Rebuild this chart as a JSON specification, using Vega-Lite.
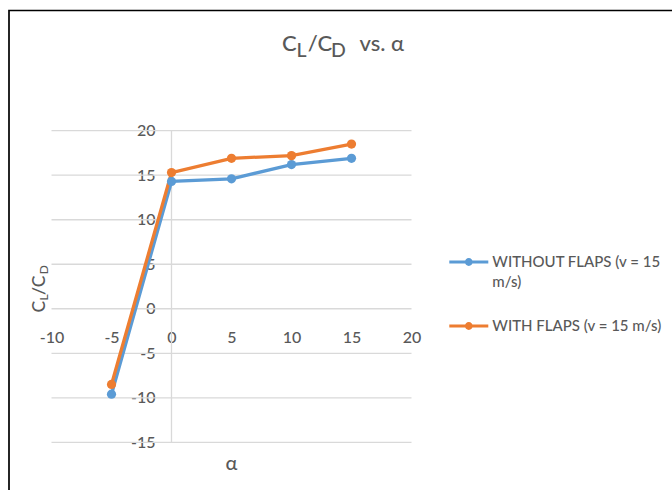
{
  "$schema": "https://vega.github.io/schema/vega-lite/v6.json",
  "width": 666,
  "height": 482.5,
  "autosize": {"type": "none"},
  "padding": {"left": 9, "top": 10.5, "right": -3, "bottom": -3},
  "background": "white",
  "config": {
    "view": {"stroke": "#000000", "strokeWidth": 1.7},
    "font": "Lato"
  },
  "title": {
    "text": "C\u2004\u2006/C\u2002\u2002\u2005vs. α",
    "subtitle": "\u200b\u2002\u2005L\u2003\u2002D",
    "anchor": "start",
    "frame": "group",
    "dx": 273,
    "offset": -51,
    "font": "Lato",
    "fontSize": 22,
    "fontWeight": 500,
    "color": "#595959",
    "subtitleFont": "Lato",
    "subtitleFontSize": 19.5,
    "subtitleFontWeight": 500,
    "subtitleColor": "#595959",
    "subtitlePadding": -14
  },
  "datasets": {
    "grid": [
      {"g": -15}, {"g": -10}, {"g": -5}, {"g": 0},
      {"g": 5}, {"g": 10}, {"g": 15}, {"g": 20}
    ],
    "ratio": [
      {"alpha": -5, "cl_cd": -9.6, "series": "WITHOUT FLAPS (v = 15 m/s)"},
      {"alpha": 0, "cl_cd": 14.3, "series": "WITHOUT FLAPS (v = 15 m/s)"},
      {"alpha": 5, "cl_cd": 14.6, "series": "WITHOUT FLAPS (v = 15 m/s)"},
      {"alpha": 10, "cl_cd": 16.2, "series": "WITHOUT FLAPS (v = 15 m/s)"},
      {"alpha": 15, "cl_cd": 16.9, "series": "WITHOUT FLAPS (v = 15 m/s)"},
      {"alpha": -5, "cl_cd": -8.5, "series": "WITH FLAPS (v = 15 m/s)"},
      {"alpha": 0, "cl_cd": 15.3, "series": "WITH FLAPS (v = 15 m/s)"},
      {"alpha": 5, "cl_cd": 16.9, "series": "WITH FLAPS (v = 15 m/s)"},
      {"alpha": 10, "cl_cd": 17.2, "series": "WITH FLAPS (v = 15 m/s)"},
      {"alpha": 15, "cl_cd": 18.5, "series": "WITH FLAPS (v = 15 m/s)"}
    ]
  },
  "resolve": {"axis": {"x": "independent", "y": "independent"}},
  "layer": [
    {
      "data": {"name": "grid"},
      "mark": {"type": "rule", "color": "#d9d9d9", "strokeWidth": 1.3},
      "encoding": {
        "x": {
          "datum": -10,
          "type": "quantitative",
          "scale": {"domain": [-13.5417, 41.9583], "nice": false, "zero": false},
          "axis": null
        },
        "x2": {"datum": 20},
        "y": {
          "field": "g",
          "type": "quantitative",
          "scale": {"domain": [-20.694, 33.501], "nice": false, "zero": false},
          "axis": {
            "orient": "left",
            "offset": -162.5,
            "labels": false,
            "ticks": false,
            "domain": false,
            "grid": false,
            "title": "L\u2003\u2002\u2005\u2006D",
            "titleFont": "Lato",
            "titleFontSize": 12,
            "titleFontWeight": 500,
            "titleColor": "#595959",
            "titleAngle": 270,
            "titleAlign": "left",
            "titleBaseline": "alphabetic",
            "titleX": -124,
            "titleY": 289.5
          }
        }
      }
    },
    {
      "data": {"values": [{"line": "vertical axis"}]},
      "mark": {"type": "rule", "color": "#d9d9d9", "strokeWidth": 1.3},
      "encoding": {
        "x": {
          "datum": 0,
          "type": "quantitative",
          "scale": {"domain": [-13.5417, 41.9583], "nice": false, "zero": false},
          "axis": null
        },
        "y": {
          "datum": -15,
          "type": "quantitative",
          "scale": {"domain": [-20.694, 33.501], "nice": false, "zero": false},
          "axis": null
        },
        "y2": {"datum": 20}
      }
    },
    {
      "data": {"name": "ratio"},
      "mark": {
        "type": "line",
        "strokeWidth": 3.3,
        "point": {"filled": true, "size": 85, "opacity": 1}
      },
      "encoding": {
        "x": {
          "field": "alpha",
          "type": "quantitative",
          "scale": {"domain": [-13.5417, 41.9583], "nice": false, "zero": false},
          "axis": {
            "orient": "bottom",
            "offset": -184.24,
            "values": [-10, -5, 0, 5, 10, 15, 20],
            "labelExpr": "datum.value < 0 ? '-' + abs(datum.value) : '' + datum.value",
            "domain": false,
            "ticks": false,
            "tickSize": 0,
            "grid": false,
            "labelPadding": 21,
            "labelFont": "Lato",
            "labelFontSize": 16,
            "labelFontWeight": 500,
            "labelColor": "#595959",
            "title": "α",
            "titleFont": "Lato",
            "titleFontSize": 20,
            "titleFontWeight": 500,
            "titleColor": "#595959",
            "titleAlign": "center",
            "titleBaseline": "middle",
            "titleX": 222,
            "titleY": 155
          }
        },
        "y": {
          "field": "cl_cd",
          "type": "quantitative",
          "scale": {"domain": [-20.694, 33.501], "nice": false, "zero": false},
          "axis": {
            "orient": "left",
            "offset": -162.5,
            "values": [-15, -10, -5, 0, 5, 10, 15, 20],
            "labelExpr": "datum.value < 0 ? '-' + abs(datum.value) : '' + datum.value",
            "domain": false,
            "ticks": false,
            "tickSize": 0,
            "grid": false,
            "labelPadding": 16.5,
            "labelFont": "Lato",
            "labelFontSize": 16,
            "labelFontWeight": 500,
            "labelColor": "#595959",
            "title": "C\u2004/C",
            "titleFont": "Lato",
            "titleFontSize": 17.5,
            "titleFontWeight": 500,
            "titleColor": "#595959",
            "titleAngle": 270,
            "titleAlign": "left",
            "titleBaseline": "alphabetic",
            "titleX": -127.5,
            "titleY": 301.5
          }
        },
        "color": {
          "field": "series",
          "type": "nominal",
          "scale": {
            "domain": ["WITHOUT FLAPS (v = 15 m/s)", "WITH FLAPS (v = 15 m/s)"],
            "range": ["#5B9BD5", "#ED7D31"]
          },
          "legend": {
            "orient": "none",
            "legendX": 440.3,
            "legendY": 232,
            "padding": 0,
            "title": null,
            "symbolType": "M-1,-0.08H1V0.08H-1Z M0.2,0 A0.2,0.2 0 1,1 -0.2,0 A0.2,0.2 0 1,1 0.2,0Z",
            "symbolSize": 1521,
            "symbolStrokeWidth": 0,
            "labelOffset": 4,
            "labelFont": "Lato",
            "labelFontSize": 15,
            "labelFontWeight": 500,
            "labelColor": "#595959",
            "labelBaseline": "middle",
            "labelLimit": 400,
            "rowPadding": 16,
            "labelExpr": "datum.label == 'WITHOUT FLAPS (v = 15 m/s)' ? ['WITHOUT FLAPS (v = 15', 'm/s)'] : datum.label",
            "encode": {
              "symbols": {
                "update": {
                  "fill": {"scale": "color", "field": "value"},
                  "strokeWidth": {"value": 0}
                }
              },
              "labels": {
                "update": {
                  "lineHeight": {"value": 20}
                }
              }
            }
          }
        }
      }
    }
  ]
}
